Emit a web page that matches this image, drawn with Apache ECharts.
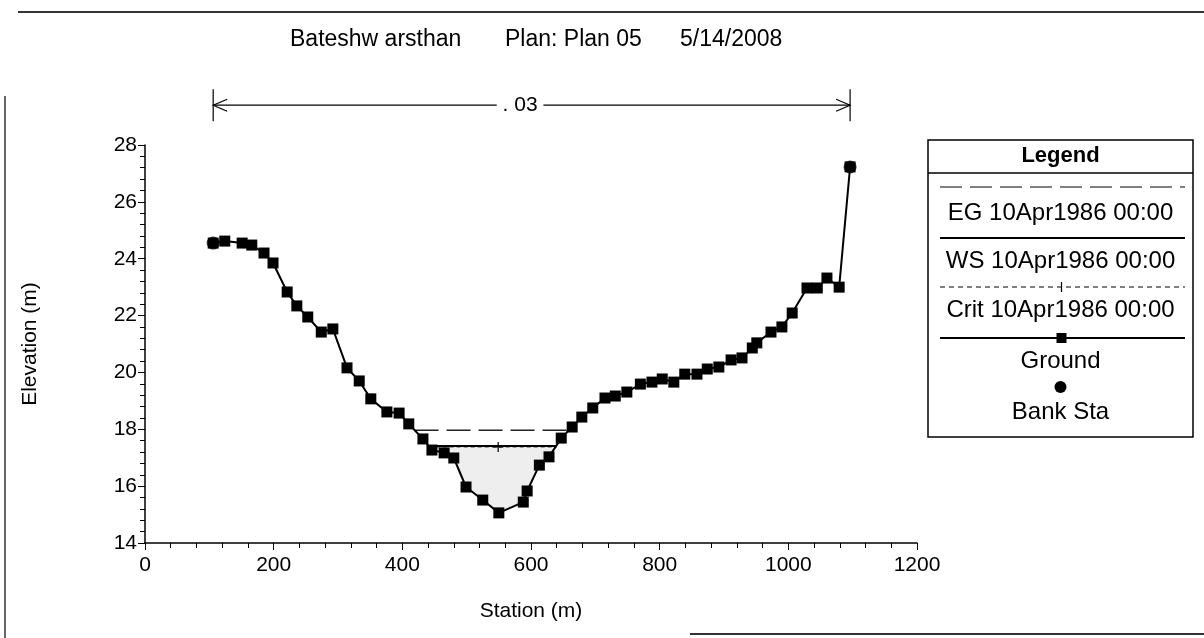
<!DOCTYPE html>
<html><head><meta charset="utf-8">
<script src="https://cdn.jsdelivr.net/npm/echarts@6/dist/echarts.min.js"></script>
<style>html,body{margin:0;padding:0;background:#fff}#c{width:1204px;height:638px}</style>
</head><body><div id="c"></div>
<script>
// ---- data ----
const titleParts = ['Bateshw arsthan', 'Plan: Plan 05', '5/14/2008'];
const xName = 'Station (m)';
const yName = 'Elevation (m)';
const groundStations = [106,124,151,166,185,199,221,236,253,274,292,314,333,351,376,395,410,432,446,465,480,499,525,550,588,594,613,628,647,664,679,696,715,731,749,770,788,804,822,839,858,874,892,911,928,944,951,973,990,1006,1029,1045,1060,1079,1096];
const groundElev = [24.55,24.62,24.55,24.48,24.20,23.85,22.83,22.34,21.95,21.42,21.53,20.16,19.70,19.07,18.61,18.57,18.19,17.66,17.27,17.17,16.99,15.97,15.51,15.06,15.44,15.83,16.74,17.03,17.69,18.08,18.43,18.75,19.10,19.17,19.31,19.59,19.66,19.77,19.66,19.94,19.94,20.12,20.19,20.44,20.51,20.86,21.04,21.42,21.60,22.09,22.97,22.97,23.32,23.00,27.23];
const bankStations = [106, 1096];
const bankElev = [24.55, 27.23];
const wsElev = 17.41;
const wsStations = [441, 640];
const egElev = 17.97;
const egStations = [419, 658];
const critElev = 17.38;
const critStations = [441, 640];
const critMarkStation = 549;
const nLabel = '.03';
const nStations = [106, 1096];
const nLabelStation = 583;
const nElev = 29.4;
const legendTitle = 'Legend';
const legendNames = ['EG 10Apr1986 00:00', 'WS 10Apr1986 00:00', 'Crit 10Apr1986 00:00', 'Ground', 'Bank Sta'];

// ---- build ----
const FONT = '"Liberation Sans", Arial, sans-serif';
const ground = groundStations.map((s, i) => [s, groundElev[i]]);
const banks = bankStations.map((s, i) => [s, bankElev[i]]);
const waterFill = [[wsStations[0], wsElev]]
  .concat(ground.filter(p => p[0] > wsStations[0] && p[0] < wsStations[1]))
  .concat([[wsStations[1], wsElev]]);

const chart = echarts.init(document.getElementById('c'), null, {renderer: 'canvas'});
const axisCommon = {
  type: 'value',
  nameLocation: 'middle',
  nameTextStyle: {fontSize: 21, color: '#000', fontFamily: FONT},
  axisLine: {show: true, onZero: false, lineStyle: {color: '#000', width: 1.5}},
  axisTick: {show: true, length: 7, lineStyle: {color: '#000', width: 1}},
  minorTick: {show: true, splitNumber: 5, length: 5, lineStyle: {color: '#000', width: 1}},
  splitLine: {show: false},
  minorSplitLine: {show: false},
  axisLabel: {fontSize: 21, color: '#000', fontFamily: FONT, margin: 8, formatter: v => String(v)}
};
const option = {
  animation: false,
  backgroundColor: '#fff',
  grid: {left: 145, right: 287, top: 145, bottom: 95},
  xAxis: Object.assign({}, axisCommon, {min: 0, max: 1200, interval: 200, name: xName, nameGap: 58,
    axisLabel: Object.assign({}, axisCommon.axisLabel, {margin: 12})}),
  yAxis: Object.assign({}, axisCommon, {min: 14, max: 28, interval: 2, name: yName, nameGap: 104, nameRotate: 90}),
  series: [
    {type: 'line', name: 'water', data: waterFill, symbol: 'none', silent: true, z: 1,
     lineStyle: {width: 0}, areaStyle: {origin: wsElev, color: '#eeeeee', opacity: 1}},
    {type: 'line', name: legendNames[0], data: egStations.map(s => [s, egElev]), symbol: 'none', z: 2,
     lineStyle: {color: '#222', width: 1.5, type: [24, 8]}},
    {type: 'line', name: legendNames[2], data: critStations.map(s => [s, critElev]), symbol: 'none', z: 2,
     lineStyle: {color: '#222', width: 1, type: [4, 3]}},
    {type: 'line', name: legendNames[1], data: wsStations.map(s => [s, wsElev]), symbol: 'none', z: 3,
     lineStyle: {color: '#000', width: 2}},
    {type: 'scatter', name: 'critMark', data: [[critMarkStation, critElev]], z: 4,
     symbol: 'path://M5,0L5,10M0,5L10,5', symbolSize: 10,
     itemStyle: {color: 'none', borderColor: '#000', borderWidth: 1.5}},
    {type: 'line', name: legendNames[3], data: ground, z: 5,
     symbol: 'rect', symbolSize: 11, itemStyle: {color: '#000'},
     lineStyle: {color: '#000', width: 2}},
    {type: 'scatter', name: legendNames[4], data: banks, z: 6,
     symbol: 'circle', symbolSize: 13, itemStyle: {color: '#000'}}
  ]
};
chart.setOption(option);

// ---- annotations / legend drawn with graphic, positioned through the axes ----
const px = v => chart.convertToPixel({gridIndex: 0}, v);
const bL = px([nStations[0], nElev]);
const bR = px([nStations[1], nElev]);
const bT = px([nLabelStation, nElev]);
const yB = bL[1];
const g = [];
// frame lines
g.push({type: 'line', shape: {x1: 18, y1: 12, x2: 1204, y2: 12}, style: {stroke: '#333', lineWidth: 2}});
g.push({type: 'line', shape: {x1: 5, y1: 96, x2: 5, y2: 638}, style: {stroke: '#333', lineWidth: 1.5}});
g.push({type: 'line', shape: {x1: 690, y1: 634, x2: 1204, y2: 634}, style: {stroke: '#333', lineWidth: 2}});
// title
const tx = [290, 505, 680];
titleParts.forEach((t, i) => g.push({type: 'text', style: {text: t, x: tx[i], y: 40, font: '23px ' + FONT, fill: '#000', align: 'left', verticalAlign: 'middle'}}));
// n-value bracket
g.push({type: 'line', shape: {x1: bL[0], y1: yB, x2: bR[0], y2: yB}, style: {stroke: '#000', lineWidth: 1.2}});
g.push({type: 'line', shape: {x1: bL[0], y1: yB - 16, x2: bL[0], y2: yB + 16}, style: {stroke: '#000', lineWidth: 1.2}});
g.push({type: 'line', shape: {x1: bR[0], y1: yB - 16, x2: bR[0], y2: yB + 16}, style: {stroke: '#000', lineWidth: 1.2}});
g.push({type: 'polyline', shape: {points: [[bL[0] + 14, yB - 6], [bL[0], yB], [bL[0] + 14, yB + 6]]}, style: {stroke: '#000', lineWidth: 1.2, fill: null}});
g.push({type: 'polyline', shape: {points: [[bR[0] - 14, yB - 6], [bR[0], yB], [bR[0] - 14, yB + 6]]}, style: {stroke: '#000', lineWidth: 1.2, fill: null}});
g.push({type: 'text', z: 10, style: {text: ' ' + nLabel.replace('.', '. ') + ' ', x: bT[0], y: yB, font: '21px ' + FONT, fill: '#000', align: 'center', verticalAlign: 'middle', backgroundColor: '#fff'}});
// legend box
const LX = 928, LW = 265, LT = 140, LB = 437, LC = LX + LW / 2;
g.push({type: 'rect', shape: {x: LX, y: LT, width: LW, height: LB - LT}, style: {stroke: '#000', lineWidth: 1.5, fill: '#fff'}, z: 5});
const lt = (t, y, bold) => g.push({type: 'text', z: 6, style: {text: t, x: LC, y: y, font: (bold ? 'bold 22px ' : '24px ') + FONT, fill: '#000', align: 'center', verticalAlign: 'middle'}});
const ll = (y, w, dash) => g.push({type: 'line', z: 6, shape: {x1: LX + 12, y1: y, x2: LX + LW - 8, y2: y}, style: {stroke: '#000', lineWidth: w, lineDash: dash || null}});
lt(legendTitle, 156, true);
g.push({type: 'line', z: 6, shape: {x1: LX, y1: 173, x2: LX + LW, y2: 173}, style: {stroke: '#000', lineWidth: 1.5}});
ll(187, 1, [22, 8]);
lt(legendNames[0], 213);
ll(238, 2);
lt(legendNames[1], 261);
ll(287, 1, [5, 4]);
g.push({type: 'line', z: 7, shape: {x1: LC + 1, y1: 282, x2: LC + 1, y2: 292}, style: {stroke: '#000', lineWidth: 1.2}});
lt(legendNames[2], 310);
ll(338, 2);
g.push({type: 'rect', z: 7, shape: {x: LC - 4, y: 333, width: 10, height: 10}, style: {fill: '#000'}});
lt(legendNames[3], 361);
g.push({type: 'circle', z: 7, shape: {cx: LC, cy: 387, r: 6}, style: {fill: '#000'}});
lt(legendNames[4], 412);
chart.setOption({graphic: g});
</script>
</body></html>
